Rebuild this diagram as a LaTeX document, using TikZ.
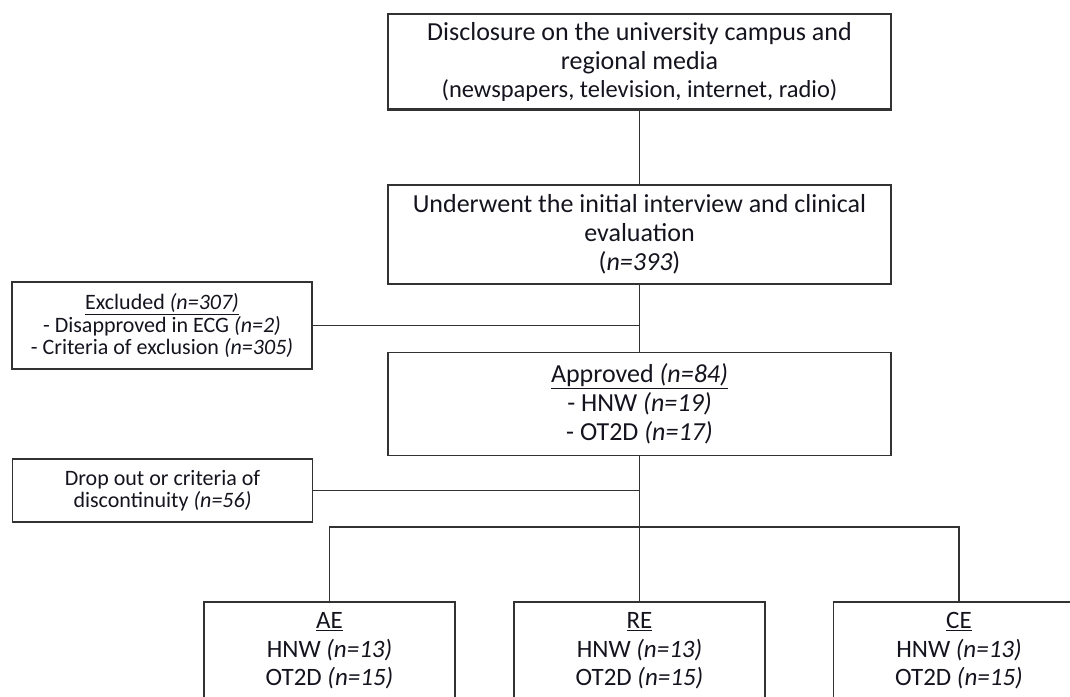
\documentclass[tikz,border=0pt]{standalone}
\usepackage{fontspec}
\setmainfont{Carlito}
\definecolor{ln}{RGB}{50,50,50}
\definecolor{tx}{RGB}{20,20,30}
\begin{document}
\begin{tikzpicture}[x=1pt,y=-1pt,
  box/.style={draw=ln, line width=1.6pt, rectangle, align=center, inner sep=0pt, text=tx},
  bigbox/.style={box, minimum width=503pt, font=\fontsize{26}{29}\selectfont},
  sidebox/.style={box, minimum width=300pt, font=\fontsize{22}{22.5}\selectfont},
  armbox/.style={box, minimum width=251pt, minimum height=98pt, font=\fontsize{25}{28.5}\selectfont},
  link/.style={draw=ln, line width=1.6pt}]
\useasboundingbox (0,0) rectangle (1070,696);
\clip (0,0) rectangle (1070,696);

\node[bigbox, minimum height=96pt] (dis) at (639.5,62)
  {Disclosure on the university campus and\\ regional media\\[-1pt]
   {\fontsize{24.5}{28}\selectfont (newspapers, television, internet, radio)}};
\draw[link, line width=1pt] ([yshift=2.2pt]dis.south west) -- ([yshift=2.2pt]dis.south east);

\node[bigbox, minimum height=99pt] (int) at (639.5,234.5)
  {Underwent the initial interview and clinical\\ evaluation\\ (\textit{n=393})};

\node[sidebox, minimum height=87pt] (exc) at (162,325.5)
  {\underline{Excluded \textit{(n=307)}}\\ - Disapproved in ECG \textit{(n=2)}\\ - Criteria of exclusion \textit{(n=305)}};

\node[bigbox, minimum height=103pt] (app) at (639.5,404)
  {\underline{Approved \textit{(n=84)}}\\ - HNW \textit{(n=19)}\\ - OT2D \textit{(n=17)}};

\node[sidebox, minimum height=63pt] (drop) at (162.5,490.5)
  {Drop out or criteria of\\ discontinuity \textit{(n=56)}};

\node[armbox] (ae) at (329.5,651) {\underline{AE}\\ HNW \textit{(n=13)}\\ OT2D \textit{(n=15)}};
\node[armbox] (re) at (639.5,651) {\underline{RE}\\ HNW \textit{(n=13)}\\ OT2D \textit{(n=15)}};
\node[armbox] (ce) at (959,651) {\underline{CE}\\ HNW \textit{(n=13)}\\ OT2D \textit{(n=15)}};

\coordinate (br) at (639.5,527);

\draw[link] (dis.south) -- (int.north);
\draw[link] (int.south) -- (app.north);
\draw[link] (exc.east) -- (exc.east -| app.north);
\draw[link] (app.south) -- (re.north);
\draw[link] (drop.east) -- (drop.east -| app.south);
\draw[link] (ae.north) |- (br) -| (ce.north);
\end{tikzpicture}
\end{document}
